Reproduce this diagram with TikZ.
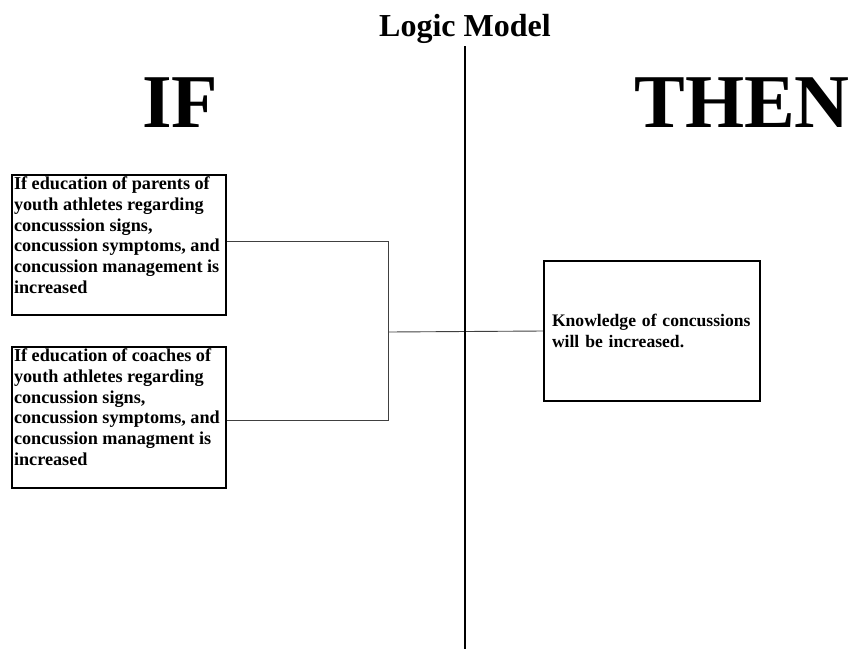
\documentclass[tikz,border=0pt]{standalone}
\usepackage{fontspec}
\setmainfont{Liberation Serif}
\usetikzlibrary{positioning}

\begin{document}
\begin{tikzpicture}[
  x=1pt, y=-1pt,
  every node/.style={font=\fontsize{17.6}{20.7}\selectfont\bfseries},
  ifbox/.style={
    rectangle, draw, line width=2.5pt,
    inner xsep=2pt, inner ysep=2pt,
    font=\fontsize{18.2}{20.7}\selectfont\bfseries
  },
  thenbox/.style={
    rectangle, draw, line width=2.5pt,
    minimum width=216pt, minimum height=140pt,
    text width=200pt, align=left, inner xsep=8pt
  },
  head/.style={font=\fontsize{76}{80}\selectfont\bfseries, anchor=base},
  link/.style={draw=black!75, line width=0.9pt},
  axis/.style={line width=2.8pt}
]
\useasboundingbox (0,0) rectangle (849,649);

% title and divider
\node[font=\fontsize{32}{36}\selectfont\bfseries] (title) at (465,29) {Logic Model};
\coordinate (axtop) at (465,46);
\coordinate (axbot) at (465,649);

% headings
\node[head] (ifhead)   at (180,127) {IF};
\node[head] (thenhead) at (742,127) {THEN};

% left column (causes)
\node[ifbox] (parents) at (119,245)
  {\parbox[t][136pt][t]{210pt}{\raggedright If education of parents of\\ youth athletes regarding\\ concusssion signs,\\ concussion symptoms, and\\ concussion management is\\ increased}};
\node[ifbox] (coaches) at (119,417.5)
  {\parbox[t][137pt][t]{210pt}{\raggedright If education of coaches of\\ youth athletes regarding\\ concussion signs,\\ concussion symptoms, and\\ concussion managment is\\ increased}};

% right column (outcome)
\node[thenbox] (knowledge) at (652,331)
  {Knowledge of concussions\\ will be increased.};

% connectors
\coordinate (join) at (388,332);
\draw[link] ([yshift=4pt]parents.east) -| (join);
\draw[link] ([yshift=-2.5pt]coaches.east) -| (join);
\draw[link] (join) -- (knowledge.west);

\draw[axis] (axtop) -- (axbot);

\end{tikzpicture}
\end{document}
